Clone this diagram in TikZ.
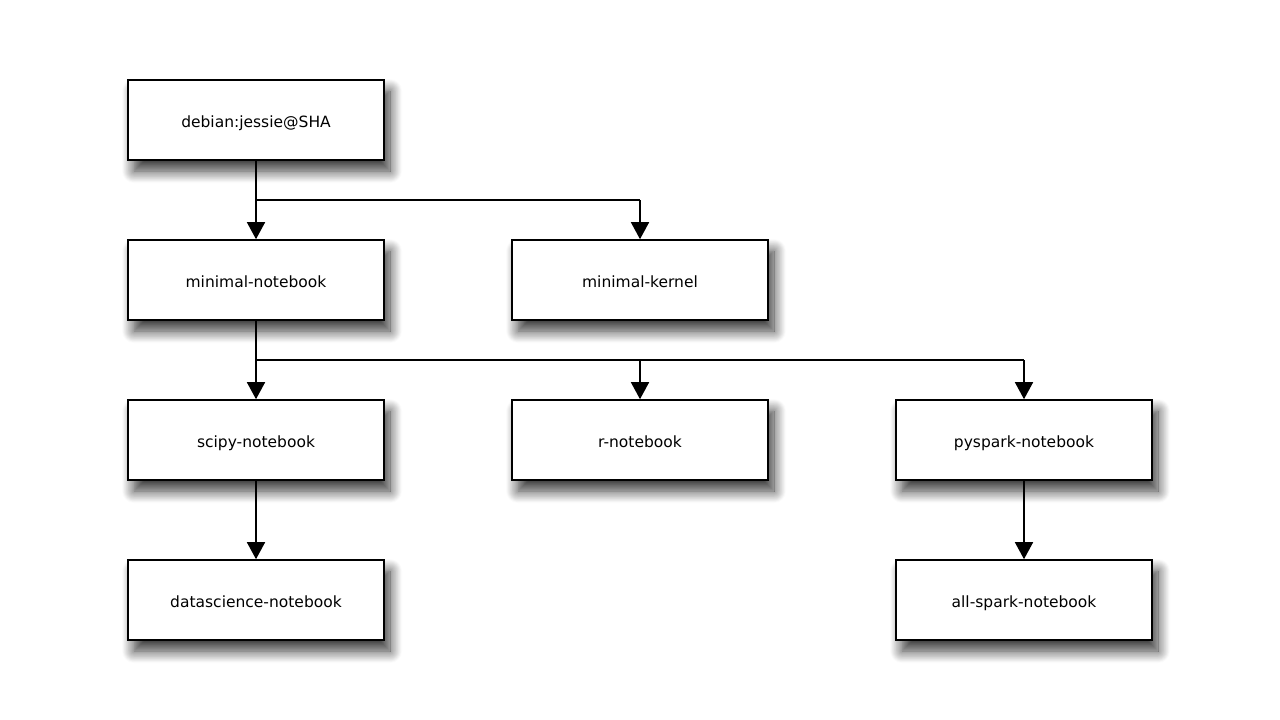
\documentclass[tikz,border=0pt]{standalone}
\usepackage{fontspec}
\setmainfont{DejaVu Sans}
\usetikzlibrary{arrows.meta,shadows.blur}
\tikzset{
  box/.style={draw=black, line width=1.6pt, fill=white, minimum width=256pt, minimum height=80pt, inner sep=0pt,
    font=\fontsize{15.5}{18}\selectfont, text height=15pt, text depth=0pt,
    blur shadow={shadow xshift=6pt, shadow yshift=-11pt, shadow blur radius=12pt, shadow blur steps=14, shadow opacity=80}},
  conn/.style={line width=1.6pt, draw=black},
  arr/.style={conn, -{Triangle[width=18pt,length=17pt]}}
}
\begin{document}
\begin{tikzpicture}[x=1pt,y=-1pt]
\useasboundingbox (0,0) rectangle (1280,720);
\node[box] (deb) at (256,120) {debian:jessie@SHA};
\node[box] (mn) at (256,280) {minimal-notebook};
\node[box] (mk) at (640,280) {minimal-kernel};
\node[box] (sci) at (256,440) {scipy-notebook};
\node[box] (r) at (640,440) {r-notebook};
\node[box] (py) at (1024,440) {pyspark-notebook};
\node[box] (ds) at (256,600) {datascience-notebook};
\node[box] (as) at (1024,600) {all-spark-notebook};
\coordinate (b1) at (256,200);
\coordinate (b1r) at (640,200);
\coordinate (b2) at (256,360);
\coordinate (b2m) at (640,360);
\coordinate (b2r) at (1024,360);
\draw[arr] (deb.south) -- (mn.north);
\draw[conn] (b1) -- (b1r);
\draw[arr] (b1r) -- (mk.north);
\draw[arr] (mn.south) -- (sci.north);
\draw[conn] (b2) -- (b2r);
\draw[arr] (b2m) -- (r.north);
\draw[arr] (b2r) -- (py.north);
\draw[arr] (sci.south) -- (ds.north);
\draw[arr] (py.south) -- (as.north);
\end{tikzpicture}
\end{document}
